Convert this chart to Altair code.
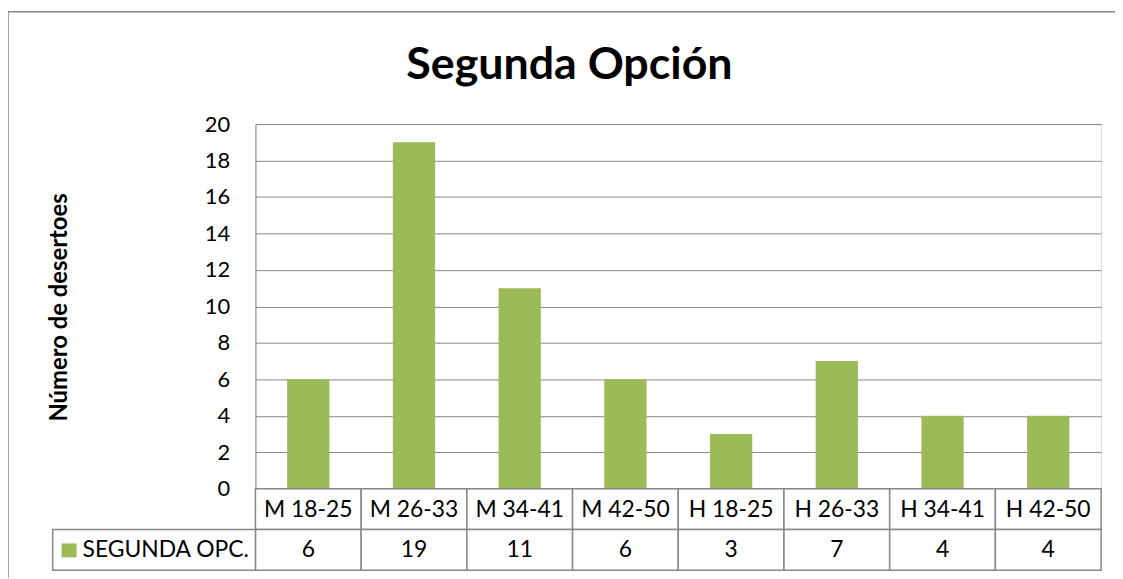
import altair as alt
import pandas as pd

categories = ["M 18-25", "M 26-33", "M 34-41", "M 42-50",
              "H 18-25", "H 26-33", "H 34-41", "H 42-50"]
values = [6, 19, 11, 6, 3, 7, 4, 4]
series_name = "SEGUNDA OPC."
chart_title = "Segunda Opción"
y_ticks = list(range(0, 21, 2))

df = pd.DataFrame({"cat": categories, "val": values})
df["val_label"] = df["val"].astype(str)

FONT = "Lato"
GREEN = "#9BBB59"
GRAY = "#878787"

W, H = 851, 367

xscale = alt.Scale(domain=categories, paddingInner=0, paddingOuter=0)
x_enc = alt.X("cat:N", scale=xscale, axis=None, sort=categories)

base = alt.Chart(df)

bars = base.mark_bar(color=GREEN, width=alt.RelativeBandSize(0.4)).encode(
    x=x_enc,
    y=alt.Y(
        "val:Q",
        scale=alt.Scale(domain=[0, 20], nice=False),
        axis=alt.Axis(
            title="Número de desertoes",
            values=y_ticks,
            grid=True,
            gridColor=GRAY,
            gridWidth=1,
            domainColor=GRAY,
            domainWidth=1,
            ticks=False,
            tickSize=0,
            labelPadding=26,
            labelFont=FONT,
            labelFontSize=22,
            labelColor="black",
            titleFont=FONT,
            titleFontSize=24,
            titleFontWeight="bold",
            titleColor="black",
            titleX=-197,
            titleY=184,
            titleAlign="center",
            titleBaseline="middle",
            titleAngle=270,
        ),
    ),
)

row1 = base.mark_rect(fill="white", stroke=GRAY, strokeWidth=1.5).encode(
    x=x_enc, y=alt.value(H), y2=alt.value(H + 41)
)
row2 = base.mark_rect(fill="white", stroke=GRAY, strokeWidth=1.5).encode(
    x=x_enc, y=alt.value(H + 41), y2=alt.value(H + 82)
)
row1_text = base.mark_text(font=FONT, fontSize=23, color="black",
                           baseline="alphabetic", align="center").encode(
    x=x_enc, y=alt.value(H + 28), text="cat:N"
)
row2_text = base.mark_text(font=FONT, fontSize=23, color="black",
                           baseline="alphabetic", align="center").encode(
    x=x_enc, y=alt.value(H + 69), text="val_label:N"
)

leg = alt.Chart(alt.Data(values=[{"s": series_name, "t": chart_title}]))
leg_cell = leg.mark_rect(fill="white", stroke=GRAY, strokeWidth=1.5).encode(
    x=alt.value(-204), x2=alt.value(0), y=alt.value(H + 41), y2=alt.value(H + 82)
)
leg_sq = leg.mark_rect(fill=GREEN).encode(
    x=alt.value(-195), x2=alt.value(-180), y=alt.value(H + 55), y2=alt.value(H + 69)
)
leg_text = leg.mark_text(font=FONT, fontSize=23, color="black",
                         baseline="alphabetic", align="left").encode(
    x=alt.value(-174), y=alt.value(H + 69), text="s:N"
)
border = leg.mark_rect(fill="white", fillOpacity=0, stroke=GRAY, strokeWidth=1.5).encode(
    x=alt.value(-249), x2=alt.value(1000), y=alt.value(-113), y2=alt.value(H + 120)
)
title_text = leg.mark_text(font=FONT, fontSize=45, fontWeight="bold", color="black",
                           baseline="alphabetic", align="center").encode(
    x=alt.value(316), y=alt.value(-45), text="t:N"
)

chart = alt.layer(
    border, bars, row1, row2, row1_text, row2_text, leg_cell, leg_sq, leg_text, title_text
).properties(
    width=W,
    height=H,
    autosize=alt.AutoSizeParams(type="none"),
    padding={"left": 249, "top": 115, "right": 14, "bottom": 88},
).configure_view(stroke=None).configure(background="white")

chart.save("out.html", embed_options={"renderer": "svg", "actions": False})
